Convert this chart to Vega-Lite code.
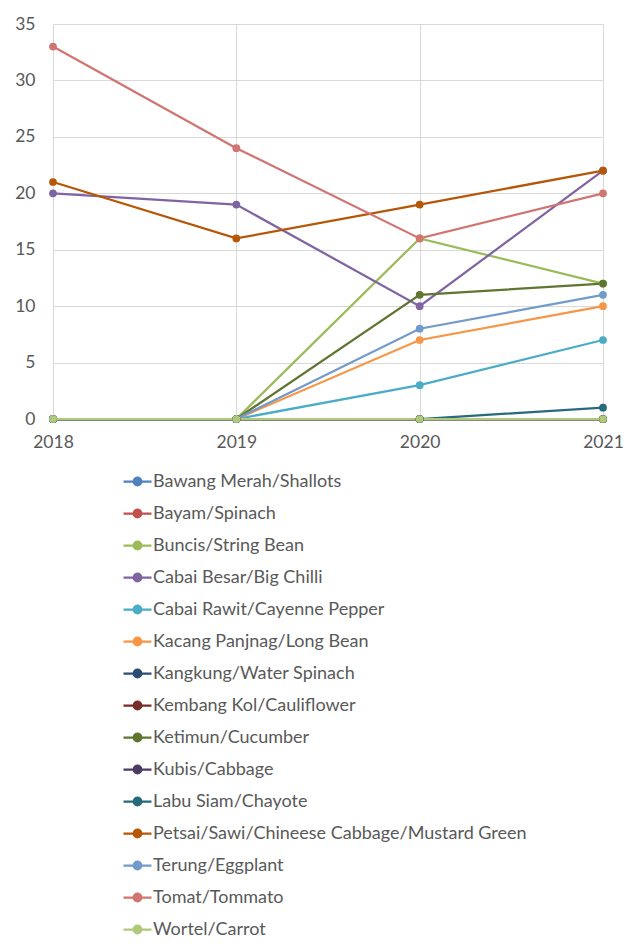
{
  "$schema": "https://vega.github.io/schema/vega-lite/v6.json",
  "autosize": "none",
  "width": 550,
  "height": 395,
  "padding": {"left": 53, "top": 24, "right": 30, "bottom": 530},
  "background": "white",
  "config": {
    "font": "Lato",
    "view": {"stroke": null},
    "axis": {"labelFont": "Lato", "labelColor": "#595959", "labelFontSize": 17.5, "gridColor": "#D9D9D9", "gridWidth": 1, "domain": false, "ticks": false, "title": null}
  },
  "data": {"values": [
    {"s": "Bawang Merah/Shallots", "year": 2018, "v": 0}, {"s": "Bawang Merah/Shallots", "year": 2019, "v": 0}, {"s": "Bawang Merah/Shallots", "year": 2020, "v": 0}, {"s": "Bawang Merah/Shallots", "year": 2021, "v": 0},
    {"s": "Bayam/Spinach", "year": 2018, "v": 0}, {"s": "Bayam/Spinach", "year": 2019, "v": 0}, {"s": "Bayam/Spinach", "year": 2020, "v": 0}, {"s": "Bayam/Spinach", "year": 2021, "v": 0},
    {"s": "Buncis/String Bean", "year": 2018, "v": 0}, {"s": "Buncis/String Bean", "year": 2019, "v": 0}, {"s": "Buncis/String Bean", "year": 2020, "v": 16}, {"s": "Buncis/String Bean", "year": 2021, "v": 12},
    {"s": "Cabai Besar/Big Chilli", "year": 2018, "v": 20}, {"s": "Cabai Besar/Big Chilli", "year": 2019, "v": 19}, {"s": "Cabai Besar/Big Chilli", "year": 2020, "v": 10}, {"s": "Cabai Besar/Big Chilli", "year": 2021, "v": 22},
    {"s": "Cabai Rawit/Cayenne Pepper", "year": 2018, "v": 0}, {"s": "Cabai Rawit/Cayenne Pepper", "year": 2019, "v": 0}, {"s": "Cabai Rawit/Cayenne Pepper", "year": 2020, "v": 3}, {"s": "Cabai Rawit/Cayenne Pepper", "year": 2021, "v": 7},
    {"s": "Kacang Panjnag/Long Bean", "year": 2018, "v": 0}, {"s": "Kacang Panjnag/Long Bean", "year": 2019, "v": 0}, {"s": "Kacang Panjnag/Long Bean", "year": 2020, "v": 7}, {"s": "Kacang Panjnag/Long Bean", "year": 2021, "v": 10},
    {"s": "Kangkung/Water Spinach", "year": 2018, "v": 0}, {"s": "Kangkung/Water Spinach", "year": 2019, "v": 0}, {"s": "Kangkung/Water Spinach", "year": 2020, "v": 0}, {"s": "Kangkung/Water Spinach", "year": 2021, "v": 0},
    {"s": "Kembang Kol/Cauliflower", "year": 2018, "v": 0}, {"s": "Kembang Kol/Cauliflower", "year": 2019, "v": 0}, {"s": "Kembang Kol/Cauliflower", "year": 2020, "v": 0}, {"s": "Kembang Kol/Cauliflower", "year": 2021, "v": 0},
    {"s": "Ketimun/Cucumber", "year": 2018, "v": 0}, {"s": "Ketimun/Cucumber", "year": 2019, "v": 0}, {"s": "Ketimun/Cucumber", "year": 2020, "v": 11}, {"s": "Ketimun/Cucumber", "year": 2021, "v": 12},
    {"s": "Kubis/Cabbage", "year": 2018, "v": 0}, {"s": "Kubis/Cabbage", "year": 2019, "v": 0}, {"s": "Kubis/Cabbage", "year": 2020, "v": 0}, {"s": "Kubis/Cabbage", "year": 2021, "v": 0},
    {"s": "Labu Siam/Chayote", "year": 2018, "v": 0}, {"s": "Labu Siam/Chayote", "year": 2019, "v": 0}, {"s": "Labu Siam/Chayote", "year": 2020, "v": 0}, {"s": "Labu Siam/Chayote", "year": 2021, "v": 1},
    {"s": "Petsai/Sawi/Chineese Cabbage/Mustard Green", "year": 2018, "v": 21}, {"s": "Petsai/Sawi/Chineese Cabbage/Mustard Green", "year": 2019, "v": 16}, {"s": "Petsai/Sawi/Chineese Cabbage/Mustard Green", "year": 2020, "v": 19}, {"s": "Petsai/Sawi/Chineese Cabbage/Mustard Green", "year": 2021, "v": 22},
    {"s": "Terung/Eggplant", "year": 2018, "v": 0}, {"s": "Terung/Eggplant", "year": 2019, "v": 0}, {"s": "Terung/Eggplant", "year": 2020, "v": 8}, {"s": "Terung/Eggplant", "year": 2021, "v": 11},
    {"s": "Tomat/Tommato", "year": 2018, "v": 33}, {"s": "Tomat/Tommato", "year": 2019, "v": 24}, {"s": "Tomat/Tommato", "year": 2020, "v": 16}, {"s": "Tomat/Tommato", "year": 2021, "v": 20},
    {"s": "Wortel/Carrot", "year": 2018, "v": 0}, {"s": "Wortel/Carrot", "year": 2019, "v": 0}, {"s": "Wortel/Carrot", "year": 2020, "v": 0}, {"s": "Wortel/Carrot", "year": 2021, "v": 0}
  ]},
  "encoding": {
    "x": {"field": "year", "type": "quantitative", "scale": {"domain": [2018, 2021], "nice": false, "zero": false},
          "axis": {"values": [2018, 2019, 2020, 2021], "format": "d", "labelPadding": 14, "labelFlush": false}},
    "y": {"field": "v", "type": "quantitative", "scale": {"domain": [0, 35], "nice": false},
          "axis": {"values": [0, 5, 10, 15, 20, 25, 30, 35], "labelPadding": 18}}
  },
  "layer": [
    {
      "mark": {"type": "line", "strokeWidth": 2.25},
      "encoding": {
        "stroke": {"field": "s", "type": "nominal", "sort": null,
          "scale": {"domain": ["Bawang Merah/Shallots", "Bayam/Spinach", "Buncis/String Bean", "Cabai Besar/Big Chilli", "Cabai Rawit/Cayenne Pepper", "Kacang Panjnag/Long Bean", "Kangkung/Water Spinach", "Kembang Kol/Cauliflower", "Ketimun/Cucumber", "Kubis/Cabbage", "Labu Siam/Chayote", "Petsai/Sawi/Chineese Cabbage/Mustard Green", "Terung/Eggplant", "Tomat/Tommato", "Wortel/Carrot"],
                    "range": ["#4F81BD", "#C0504D", "#9BBB59", "#8064A2", "#4BACC6", "#F79646", "#2C4D75", "#772C2A", "#5F7530", "#4D3B62", "#276A7C", "#B65708", "#729ACA", "#D07572", "#AFC97A"]},
          "legend": {"orient": "none", "legendX": 69, "legendY": 442, "title": null, "direction": "vertical",
                     "symbolType": "M -1 0 H 1 M 0.27 0 A 0.27 0.27 0 1 1 -0.27 0 A 0.27 0.27 0 1 1 0.27 0",
                     "symbolSize": 784, "symbolStrokeWidth": 2.25, "labelFontSize": 18, "labelColor": "#595959", "labelFont": "Lato",
                     "rowPadding": 7, "labelOffset": 0, "labelLimit": 500}}
      }
    },
    {
      "mark": {"type": "point", "filled": true, "size": 60, "opacity": 1},
      "encoding": {
        "fill": {"field": "s", "type": "nominal", "sort": null,
          "scale": {"domain": ["Bawang Merah/Shallots", "Bayam/Spinach", "Buncis/String Bean", "Cabai Besar/Big Chilli", "Cabai Rawit/Cayenne Pepper", "Kacang Panjnag/Long Bean", "Kangkung/Water Spinach", "Kembang Kol/Cauliflower", "Ketimun/Cucumber", "Kubis/Cabbage", "Labu Siam/Chayote", "Petsai/Sawi/Chineese Cabbage/Mustard Green", "Terung/Eggplant", "Tomat/Tommato", "Wortel/Carrot"],
                    "range": ["#4F81BD", "#C0504D", "#9BBB59", "#8064A2", "#4BACC6", "#F79646", "#2C4D75", "#772C2A", "#5F7530", "#4D3B62", "#276A7C", "#B65708", "#729ACA", "#D07572", "#AFC97A"]},
          "legend": {"orient": "none", "legendX": 69, "legendY": 442, "title": null, "direction": "vertical",
                     "symbolType": "M -1 0 H 1 M 0.27 0 A 0.27 0.27 0 1 1 -0.27 0 A 0.27 0.27 0 1 1 0.27 0",
                     "symbolSize": 784, "symbolStrokeWidth": 2.25, "labelFontSize": 18, "labelColor": "#595959", "labelFont": "Lato",
                     "rowPadding": 7, "labelOffset": 0, "labelLimit": 500}}
      }
    }
  ]
}
